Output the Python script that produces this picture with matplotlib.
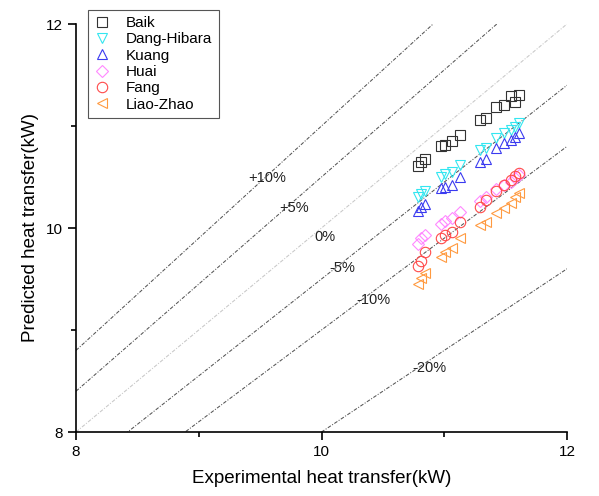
import matplotlib.pyplot as plt
from matplotlib.ticker import MultipleLocator

plt.rcParams['font.family'] = ['Liberation Sans', 'DejaVu Sans']

# experimental heat transfer (kW), shared by every correlation
exp_q = [10.79, 10.81, 10.84, 10.97, 11.01, 11.06, 11.13, 11.29, 11.34, 11.42, 11.49, 11.54, 11.58, 11.61]

baik = [10.61, 10.65, 10.68, 10.80, 10.81, 10.85, 10.91, 11.06, 11.08, 11.19, 11.21, 11.29, 11.24, 11.30]
dang_hibara = [10.30, 10.33, 10.36, 10.50, 10.53, 10.55, 10.62, 10.76, 10.78, 10.88, 10.93, 10.96, 10.99, 11.03]
kuang = [10.17, 10.21, 10.24, 10.39, 10.40, 10.42, 10.50, 10.65, 10.68, 10.78, 10.83, 10.86, 10.89, 10.93]
huai = [9.84, 9.90, 9.93, 10.04, 10.07, 10.10, 10.16, 10.26, 10.30, 10.38, 10.42, 10.45, 10.49, 10.52]
fang = [9.63, 9.68, 9.76, 9.90, 9.93, 9.96, 10.06, 10.21, 10.27, 10.36, 10.42, 10.47, 10.51, 10.54]
liao_zhao = [9.45, 9.51, 9.56, 9.72, 9.76, 9.80, 9.90, 10.03, 10.06, 10.15, 10.20, 10.25, 10.30, 10.34]

names = ['Baik', 'Dang-Hibara', 'Kuang', 'Huai', 'Fang', 'Liao-Zhao']
series = [baik, dang_hibara, kuang, huai, fang, liao_zhao]
markers = ['s', 'v', '^', 'D', 'o', '<']
colors = ['#333333', '#33e6f0', '#3a3af0', '#ff88ff', '#ff4a4a', '#ff9a40']

# error bands
bands = [0.10, 0.05, 0.0, -0.05, -0.10, -0.20]
band_labels = ['+10%', '+5%', '0%', '-5%', '-10%', '-20%']
label_pos = [(9.56, 10.49), (9.78, 10.2), (10.03, 9.91), (10.17, 9.61), (10.42, 9.29), (10.88, 8.63)]

fig = plt.figure(figsize=(5.99, 4.96), dpi=100)
ax = fig.add_axes([76/599, 64/496, 491/599, 408/496])

xs = [8, 12]
for b in bands:
    c = '#c8c8c8' if b == 0 else '#555555'
    ax.plot(xs, [v*(1+b) for v in xs], color=c, lw=0.75, ls=(0, (3.5, 1.5, 1, 1.5)), zorder=1)
for lab, (lx, ly) in zip(band_labels, label_pos):
    ax.text(lx, ly, lab, fontsize=10.5, ha='center', va='center', color='#222222')

for name, y, m, c in zip(names, series, markers, colors):
    ms = 6.5 if m == 'D' else 7.5
    ax.plot(exp_q, y, ls='none', marker=m, ms=ms, mfc='none', mec=c, mew=0.8, label=name, zorder=3)

ax.set_xlim(8, 12)
ax.set_ylim(8, 12)
ax.xaxis.set_major_locator(MultipleLocator(2))
ax.yaxis.set_major_locator(MultipleLocator(2))
ax.xaxis.set_minor_locator(MultipleLocator(1))
ax.yaxis.set_minor_locator(MultipleLocator(1))
ax.tick_params(which='major', length=6, width=1.2, labelsize=11, direction='out')
ax.tick_params(which='minor', length=3.5, width=1.2, direction='out')
for s in ['top', 'right']:
    ax.spines[s].set_visible(False)
for s in ['left', 'bottom']:
    ax.spines[s].set_linewidth(1.2)

ax.set_xlabel('Experimental heat transfer(kW)', fontsize=13.5, labelpad=8)
ax.set_ylabel('Predicted heat transfer(kW)', fontsize=13.5, labelpad=5)

leg = ax.legend(loc='upper left', bbox_to_anchor=(88/599, 1 - 10/496), bbox_transform=fig.transFigure,
                borderaxespad=0, fancybox=False, fontsize=11, handlelength=1.0, handletextpad=1.1,
                labelspacing=0.15, borderpad=0.4, framealpha=1)
leg.get_frame().set_edgecolor('#555555')
leg.get_frame().set_linewidth(0.8)

fig.savefig('out.png', dpi=100)
